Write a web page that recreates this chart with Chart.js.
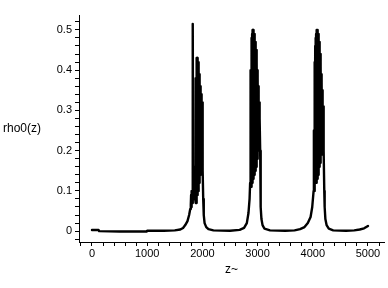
<!DOCTYPE html>
<html>
<head>
<meta charset="utf-8">
<script src="https://cdn.jsdelivr.net/npm/chart.js@4/dist/chart.umd.min.js"></script>
<style>
html,body{margin:0;padding:0;background:#fff;}
canvas{display:block;}
</style>
</head>
<body>
<canvas id="c" width="388" height="288"></canvas>
<script>
// z values and rho0(z) values
const zValues = [
  0, 120, 130, 500, 990, 1000, 1300, 1500, 1600, 1650, 1690, 1730, 1760, 1780,
  1790, 1796, 1802, 1808, 1814, 1820, 1826, 1830, 1834, 1840, 1846, 1852, 1858, 1864, 1870,
  1874, 1878, 1882, 1886, 1890, 1894, 1898, 1902, 1906, 1910, 1914, 1918, 1922, 1926, 1930,
  1934, 1938, 1942, 1946, 1950, 1954, 1958, 1962, 1966, 1970, 1974, 1978, 1982, 1986, 1990,
  1995, 2000, 2005, 2010, 2015, 2025, 2040, 2070, 2110, 2200, 2500,
  2675, 2755, 2805, 2835, 2855, 2865,
  2869, 2873, 2877, 2881, 2885, 2889, 2893, 2897, 2901, 2905, 2909, 2913, 2917, 2921, 2925,
  2929, 2933, 2937, 2941, 2945, 2949, 2953, 2957, 2961, 2965, 2969, 2973, 2977, 2981, 2985,
  2989, 2993, 2997, 3001, 3005, 3009, 3013, 3017, 3021, 3025, 3029, 3033, 3037, 3041,
  3047, 3053, 3059, 3070, 3090, 3125, 3225, 3500,
  3670, 3770, 3850, 3910, 3960, 3990, 4015,
  4020, 4024, 4028, 4032, 4036, 4040, 4044, 4048, 4052, 4056, 4060, 4064, 4068, 4072, 4076,
  4080, 4084, 4088, 4092, 4096, 4100, 4104, 4108, 4112, 4116, 4120, 4124, 4128, 4132, 4136,
  4140, 4144, 4148, 4152, 4156, 4160, 4164, 4168, 4172, 4176, 4180, 4184, 4188, 4192, 4196,
  4202, 4208, 4215, 4228, 4250, 4290, 4370, 4600, 4750, 4850, 4930, 5000
];
const rhoValues = [
  0.003, 0.003, 0.0, -0.001, -0.001, 0.001, 0.001, 0.002, 0.004, 0.008, 0.015, 0.025, 0.04, 0.055,
  0.065, 0.09, 0.06, 0.1, 0.07, 0.11, 0.08, 0.515, 0.1, 0.13, 0.08, 0.14, 0.09, 0.16, 0.08,
  0.22, 0.07, 0.38, 0.08, 0.42, 0.07, 0.43, 0.08, 0.43, 0.09, 0.425, 0.1, 0.42, 0.1, 0.41,
  0.11, 0.40, 0.12, 0.39, 0.13, 0.38, 0.14, 0.36, 0.15, 0.35, 0.17, 0.34, 0.19, 0.33, 0.22,
  0.32, 0.30, 0.24, 0.15, 0.08, 0.04, 0.02, 0.01, 0.005, 0.002, 0.001,
  0.003, 0.008, 0.02, 0.045, 0.08, 0.12,
  0.30, 0.11, 0.40, 0.11, 0.46, 0.12, 0.48, 0.11, 0.49, 0.12, 0.50, 0.12, 0.50, 0.13, 0.50,
  0.13, 0.495, 0.14, 0.49, 0.14, 0.48, 0.15, 0.47, 0.15, 0.46, 0.16, 0.45, 0.16, 0.43, 0.17,
  0.42, 0.18, 0.40, 0.19, 0.38, 0.20, 0.36, 0.21, 0.34, 0.22, 0.32, 0.24, 0.30, 0.28,
  0.2, 0.1, 0.06, 0.03, 0.015, 0.006, 0.002, 0.001,
  0.002, 0.005, 0.01, 0.02, 0.035, 0.06, 0.1,
  0.25, 0.10, 0.36, 0.11, 0.42, 0.11, 0.46, 0.12, 0.48, 0.12, 0.49, 0.12, 0.50, 0.13, 0.50,
  0.13, 0.50, 0.14, 0.495, 0.14, 0.49, 0.15, 0.48, 0.15, 0.47, 0.16, 0.46, 0.16, 0.44, 0.17,
  0.43, 0.18, 0.41, 0.19, 0.39, 0.20, 0.37, 0.21, 0.35, 0.22, 0.33, 0.24, 0.31, 0.26, 0.29,
  0.2, 0.1, 0.06, 0.03, 0.015, 0.006, 0.002, 0.001, 0.002, 0.004, 0.007, 0.013
];
const xTickLabels = ['0', '1000', '2000', '3000', '4000', '5000'];
const yTickLabels = ['0', '0.1', '0.2', '0.3', '0.4', '0.5'];
const xTitle = 'z~';
const yTitle = 'rho0(z)';

const FONT = "'Liberation Sans', Arial, Helvetica, sans-serif";
const points = zValues.map((z, i) => ({ x: z, y: rhoValues[i] }));

const yTitlePlugin = {
  id: 'yTitlePlugin',
  afterDraw(chart) {
    const ctx = chart.ctx;
    ctx.save();
    ctx.fillStyle = '#000';
    ctx.font = '12px ' + FONT;
    ctx.textAlign = 'left';
    ctx.textBaseline = 'middle';
    ctx.fillText(yTitle, 3, 129);
    ctx.restore();
  }
};

new Chart(document.getElementById('c'), {
  type: 'line',
  data: {
    datasets: [{
      data: points,
      borderColor: '#000',
      borderWidth: 2.4,
      borderJoinStyle: 'round',
      borderCapStyle: 'round',
      pointRadius: 0,
      tension: 0,
      fill: false,
      segment: { borderColor: () => '#000' }
    }]
  },
  options: {
    responsive: false,
    animation: false,
    layout: { padding: { top: 15, right: 4, left: 0, bottom: 0 } },
    plugins: { legend: { display: false }, tooltip: { enabled: false } },
    scales: {
      x: {
        type: 'linear',
        min: -235,
        max: 5290,
        afterFit(s) { s.height = 46; },
        border: { color: '#000', width: 1 },
        grid: { drawOnChartArea: false, drawTicks: true, tickLength: 4, tickColor: '#000' },
        ticks: {
          stepSize: 200,
          includeBounds: false,
          autoSkip: false,
          maxRotation: 0,
          color: '#000',
          padding: 1,
          font: { family: FONT, size: 11 },
          callback(v) {
            const k = Math.round(v / 1000);
            if (Math.abs(v - k * 1000) < 1e-6 && k >= 0 && k < xTickLabels.length) return xTickLabels[k];
            return '';
          }
        },
        title: {
          display: true,
          text: xTitle,
          color: '#000',
          font: { family: FONT, size: 12 },
          padding: { top: 0, bottom: 11 }
        }
      },
      y: {
        type: 'linear',
        min: -0.027,
        max: 0.537,
        afterFit(s) { s.width = 79; },
        border: { color: '#000', width: 1 },
        grid: { drawOnChartArea: false, drawTicks: true, tickLength: 4, tickColor: '#000' },
        ticks: {
          stepSize: 0.02,
          includeBounds: false,
          autoSkip: false,
          color: '#000',
          padding: 3,
          font: { family: FONT, size: 11 },
          callback(v) {
            const k = Math.round(v * 10);
            if (Math.abs(v * 10 - k) < 1e-6 && k >= 0 && k < yTickLabels.length) return yTickLabels[k];
            return '';
          }
        }
      }
    }
  },
  plugins: [yTitlePlugin]
});
</script>
</body>
</html>
